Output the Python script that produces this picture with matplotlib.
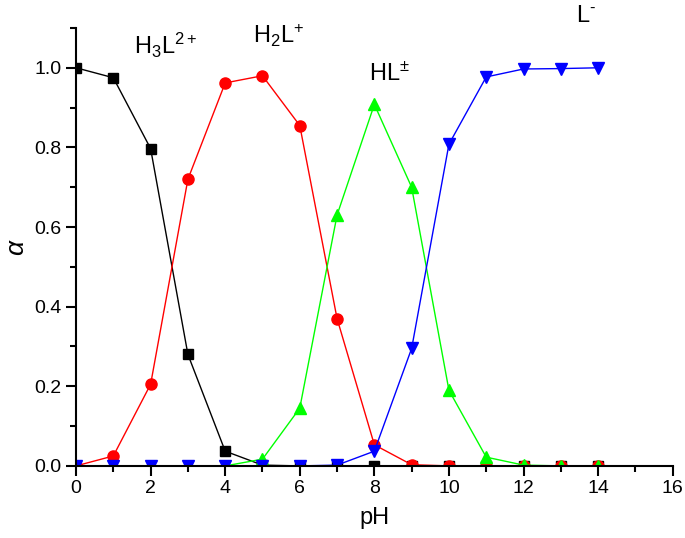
import numpy as np
import matplotlib.pyplot as plt
from matplotlib.ticker import MultipleLocator

plt.rcParams['font.family'] = ['Liberation Sans', 'DejaVu Sans']
plt.rcParams['mathtext.fontset'] = 'custom'
plt.rcParams['mathtext.rm'] = 'Liberation Sans'
plt.rcParams['mathtext.it'] = 'Liberation Sans:italic'

pH = [0, 1, 2, 3, 4, 5, 6, 7, 8, 9, 10, 11, 12, 13, 14]

# species fractions
h3l = [1.0, 0.975, 0.797, 0.28, 0.037, 0.002, 0.0, 0.0, 0.0, 0.0, 0.0, 0.0, 0.0, 0.0, 0.0]
h2l = [0.0, 0.025, 0.205, 0.72, 0.962, 0.98, 0.855, 0.37, 0.053, 0.003, 0.0, 0.0, 0.0, 0.0, 0.0]
hl = [0.0, 0.0, 0.0, 0.0, 0.0, 0.017, 0.145, 0.63, 0.908, 0.70, 0.19, 0.022, 0.002, 0.0, 0.0]
l = [0.0, 0.0, 0.0, 0.0, 0.0, 0.0, 0.0, 0.002, 0.037, 0.295, 0.808, 0.977, 0.997, 0.998, 1.0]

fig = plt.figure(figsize=(6.85, 5.38), dpi=100)
ax = fig.add_axes([0.111, 0.134, 0.871, 0.814])

ax.plot(pH, h3l, color='black', marker='s', ms=7, lw=1)
ax.plot(pH, h2l, color='red', marker='o', ms=8, lw=1)
ax.plot(pH, hl, color='#00ff00', marker='^', ms=9, lw=1)
ax.plot(pH, l, color='blue', marker='v', ms=9, lw=1)

ax.set_xlim(0, 16)
ax.set_ylim(0, 1.1)
ax.xaxis.set_major_locator(MultipleLocator(2))
ax.xaxis.set_minor_locator(MultipleLocator(1))
ax.yaxis.set_major_locator(MultipleLocator(0.2))
ax.yaxis.set_minor_locator(MultipleLocator(0.1))
ax.yaxis.set_major_formatter(plt.FormatStrFormatter('%.1f'))
ax.spines['top'].set_visible(False)
ax.spines['right'].set_visible(False)
ax.spines['left'].set_linewidth(1.5)
ax.spines['bottom'].set_linewidth(1.5)
ax.tick_params(which='major', direction='out', length=7, width=1.5, labelsize=14)
ax.tick_params(which='minor', direction='out', length=4, width=1.5)

ax.set_xlabel('pH', fontsize=17, labelpad=7)
ax.set_ylabel(r'$\it{\alpha}$', fontsize=19)

ax.text(1.55, 1.055, r'H$_3$L$^{2+}$', fontsize=17, va='center', clip_on=False)
ax.text(4.75, 1.08, r'H$_2$L$^{+}$', fontsize=17, va='center', clip_on=False)
ax.text(7.85, 0.985, r'HL$^{\pm}$', fontsize=17, va='center', clip_on=False)
ax.text(13.4, 1.13, 'L$^{\u2010}$', fontsize=17, va='center', clip_on=False)

fig.savefig('out.png', dpi=100)
